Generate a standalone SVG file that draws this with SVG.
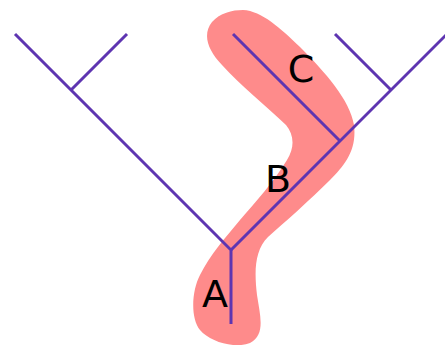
<svg xmlns="http://www.w3.org/2000/svg" width="445" height="345" viewBox="0 0 445 345">
<style>
.e{stroke:#5e35b1;stroke-width:3;fill:none;stroke-linecap:butt}
.t{font-family:"DejaVu Sans",sans-serif;font-size:38px;fill:#000;text-anchor:middle}
</style>
<rect width="445" height="345" fill="#fff"/>
<g id="highlight">
<path d="M243,10 C262,11 280,28 300,47 C325,72 350,100 354,125 C357,150 345,165 330,180 C310,200 285,222 268,237 C255,250 254,270 257,295 C260,315 266,335 250,343 C235,349 210,342 200,330 C190,318 192,290 200,275 C210,255 225,238 240,220 C255,203 275,180 287,160 C295,147 294,135 286,125 C265,105 240,85 222,65 C208,50 202,35 212,22 C220,13 232,10 243,10 Z" fill="#fe8b8b"/>
</g>
<g id="connectors">
<path class="e" d="M231,324 V250 L15,34"/>
<path class="e" d="M231,250 L447,34"/>
<path class="e" d="M71,90 L127,34"/>
<path class="e" d="M391,90 L335,34"/>
<path class="e" d="M340,141 L233,34"/>
</g>
<g id="A"><text class="t" x="215" y="307">A</text></g>
<g id="B"><text class="t" x="278" y="192">B</text></g>
<g id="C"><text class="t" x="301" y="82">C</text></g>
</svg>
